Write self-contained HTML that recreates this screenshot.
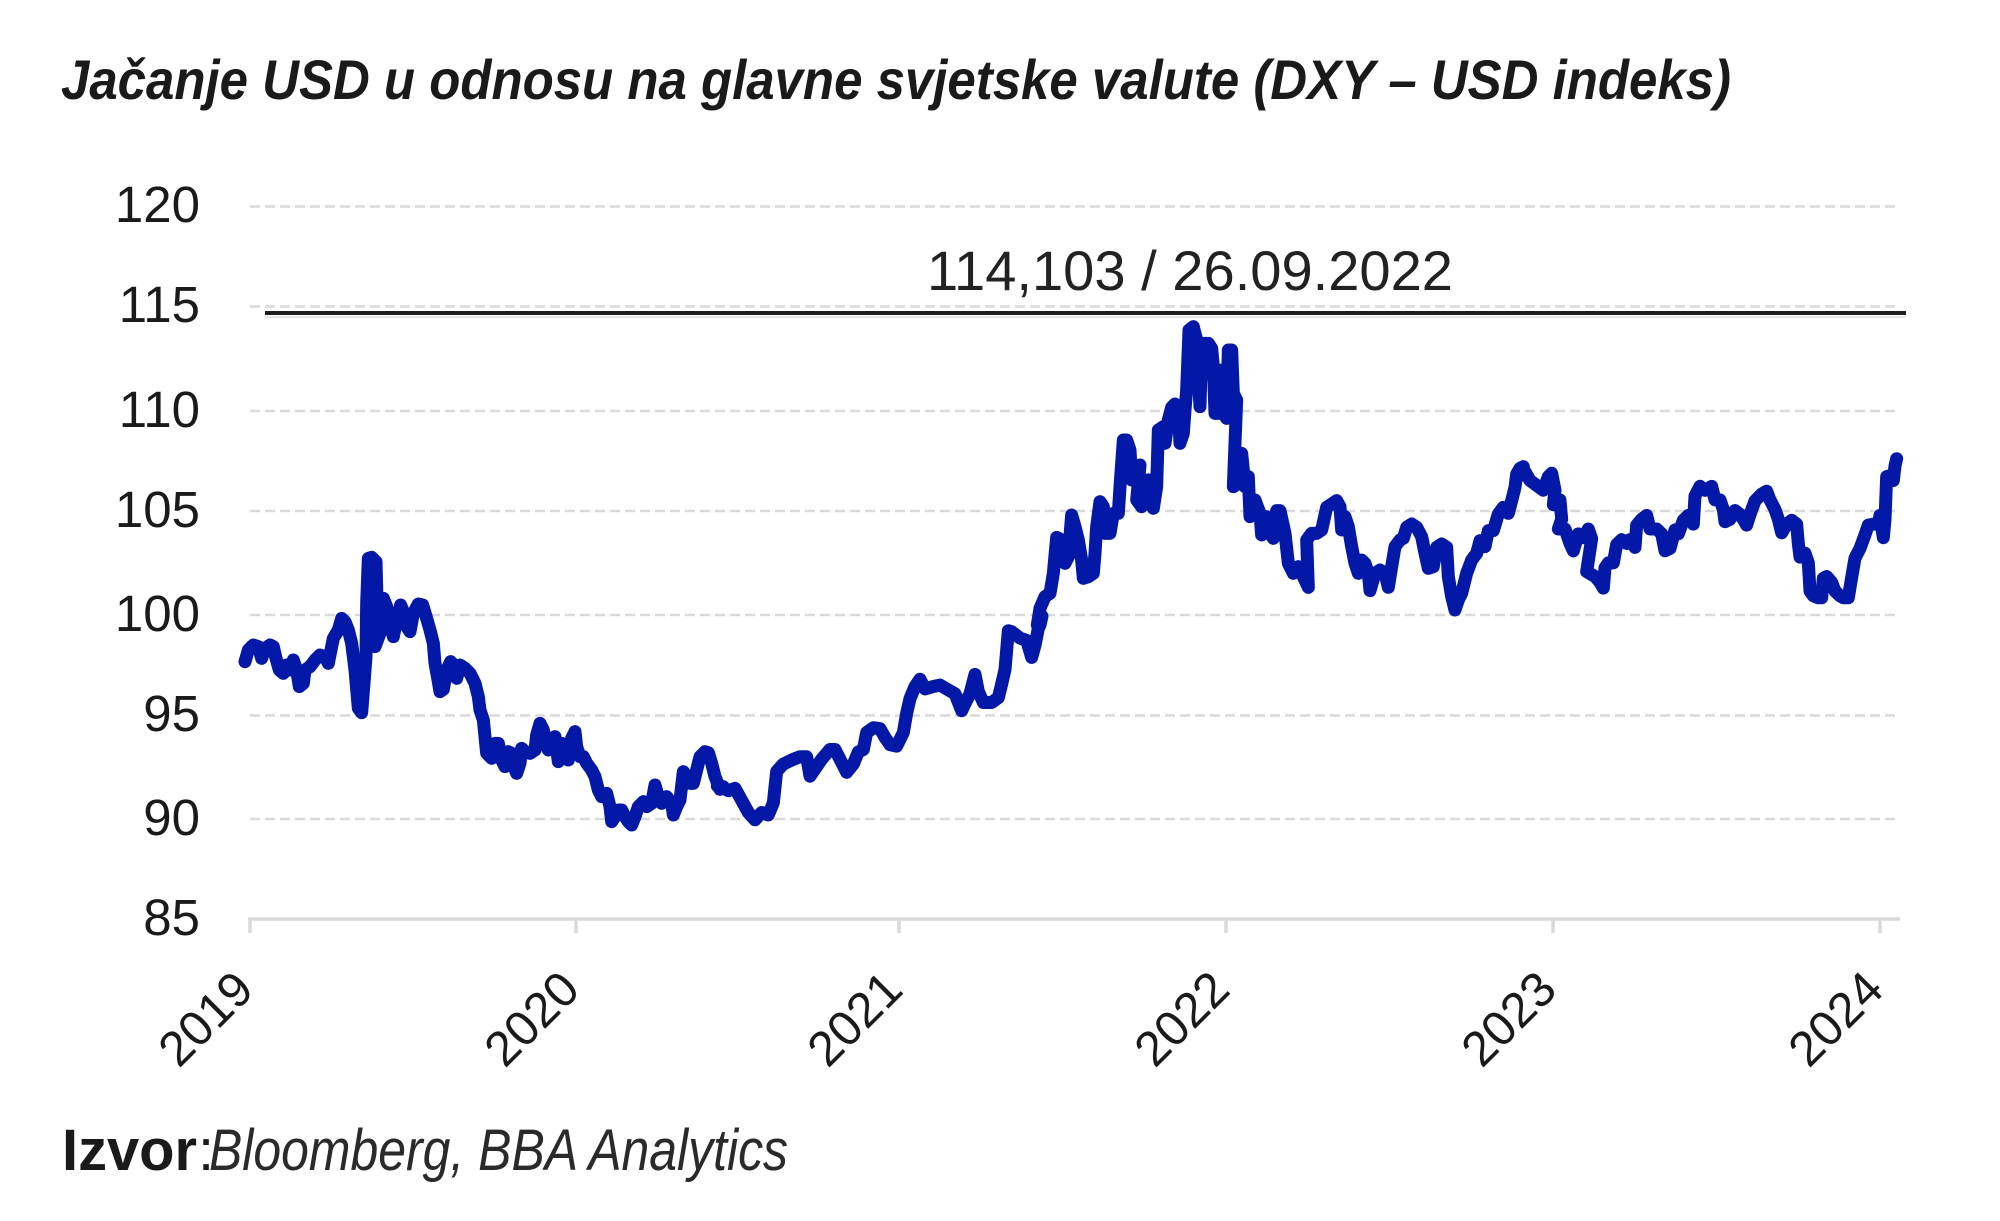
<!DOCTYPE html>
<html>
<head>
<meta charset="utf-8">
<style>
  html, body { margin: 0; padding: 0; background: #ffffff; }
  svg { display: block; }
  text { font-family: "Liberation Sans", Arial, sans-serif; }
</style>
</head>
<body>
<svg width="2000" height="1221" viewBox="0 0 2000 1221" xmlns="http://www.w3.org/2000/svg">
  <rect x="0" y="0" width="2000" height="1221" fill="#ffffff"/>

  <!-- Title -->
  <text x="61" y="99" font-size="56" font-weight="bold" font-style="italic" fill="#1a1a1a" textLength="1670" lengthAdjust="spacingAndGlyphs">Jačanje USD u odnosu na glavne svjetske valute (DXY – USD indeks)</text>

  <!-- Gridlines -->
  <g stroke="#d9d9d9" stroke-width="2.5" stroke-dasharray="10 5" fill="none">
    <line x1="250" y1="206.5" x2="1897" y2="206.5"/>
    <line x1="250" y1="306.5" x2="1897" y2="306.5"/>
    <line x1="250" y1="411" x2="1897" y2="411"/>
    <line x1="250" y1="511" x2="1897" y2="511"/>
    <line x1="250" y1="615" x2="1897" y2="615"/>
    <line x1="250" y1="715.5" x2="1897" y2="715.5"/>
    <line x1="250" y1="819" x2="1897" y2="819"/>
  </g>

  <!-- X axis -->
  <g stroke="#d9d9d9" stroke-width="3.5" fill="none">
    <line x1="248" y1="919" x2="1900" y2="919"/>
    <line x1="250" y1="919" x2="250" y2="933"/>
    <line x1="576" y1="919" x2="576" y2="933"/>
    <line x1="899" y1="919" x2="899" y2="933"/>
    <line x1="1226" y1="919" x2="1226" y2="933"/>
    <line x1="1553" y1="919" x2="1553" y2="933"/>
    <line x1="1880" y1="919" x2="1880" y2="933"/>
  </g>

  <!-- Y labels -->
  <g font-size="51" fill="#1a1a1a" text-anchor="end">
    <text x="200" y="222">120</text>
    <text x="200" y="322">115</text>
    <text x="200" y="427">110</text>
    <text x="200" y="527">105</text>
    <text x="200" y="631">100</text>
    <text x="200" y="731">95</text>
    <text x="200" y="835">90</text>
    <text x="200" y="935">85</text>
  </g>

  <!-- X labels -->
  <g font-size="49" fill="#1a1a1a" text-anchor="end">
    <text transform="translate(256,992) rotate(-45)">2019</text>
    <text transform="translate(582,992) rotate(-45)">2020</text>
    <text transform="translate(905,992) rotate(-45)">2021</text>
    <text transform="translate(1232,992) rotate(-45)">2022</text>
    <text transform="translate(1559,992) rotate(-45)">2023</text>
    <text transform="translate(1886,992) rotate(-45)">2024</text>
  </g>

  <!-- Max line + annotation -->
  <line x1="265" y1="313" x2="1906" y2="313" stroke="#1e1e1e" stroke-width="4"/>
  <line x1="265" y1="317" x2="1906" y2="317" stroke="#e6e6e6" stroke-width="2"/>
  <text x="927" y="290" font-size="56" fill="#222222" textLength="526" lengthAdjust="spacingAndGlyphs">114,103 / 26.09.2022</text>

  <!-- Series -->
  <g fill="none" stroke="#0418a8" stroke-width="13" stroke-linejoin="round" stroke-linecap="round">
    <g transform="translate(240,530) scale(0.333333,0.333333)">
      <polyline vector-effect="non-scaling-stroke" points="15,395 25,360 40,345 55,350 65,385 75,355 90,345 100,350 108,385 118,420 130,430 140,405 150,420 160,390 170,420 178,470 190,460 195,420 210,410 225,390 240,375 255,380 265,400 270,375 280,325 295,300 305,265 315,275 325,300 335,340 345,420 355,535 365,548 372,460 378,380 380,220 385,85 395,82 408,95 412,250 405,350 420,310 430,205 440,230 450,280 460,320 470,270 482,225 492,250 500,290 510,305 520,250 535,222 548,225 560,265 570,300 580,340 585,400 595,455 600,485 610,478 620,420 632,395 645,410 650,445 660,405 675,415 690,430 705,460 715,500 720,540 730,570 735,620 740,670 755,685 765,640 775,640 785,690 795,710 805,665 815,670 820,705 830,730 840,700 845,655 855,665 870,670 885,660 890,615 900,580 910,600 915,640 925,660 935,625 945,620 955,695 965,640 975,660 985,690 995,625 1005,605 1010,650 1020,680 1030,680 1040,700 1055,720 1065,740 1075,780 1085,800 1100,790 1110,830 1115,875 1125,860 1135,840 1145,840 1155,860 1165,875 1175,885 1185,860 1195,830 1210,815 1220,830 1235,820 1245,765 1255,800 1265,820 1280,800 1295,820 1300,855 1310,830 1320,810 1330,725 1340,740 1350,760 1360,760 1370,720 1380,680 1395,665 1405,668 1415,700 1425,740 1440,778 1450,770"/>
    </g>
    <g transform="translate(640,180) scale(0.333333,0.4847)">
      <polyline vector-effect="non-scaling-stroke" points="232,1250 240,1250 265,1260 285,1255 305,1280 325,1305 345,1320 365,1305 385,1310 400,1285 410,1220 430,1205 460,1195 480,1190 500,1190 510,1230 525,1215 545,1195 570,1175 585,1175 600,1195 620,1222 640,1205 655,1180 670,1175 680,1140 700,1130 720,1132 735,1150 750,1165 770,1168 790,1140 800,1100 810,1070 825,1045 840,1030 855,1050 880,1045 900,1042 920,1050 945,1060 965,1095 975,1080 990,1060 1005,1020 1015,1055 1030,1078 1055,1078 1075,1068 1085,1040 1095,1010 1105,930 1115,932 1140,945 1160,950 1175,985 1185,960 1195,925 1200,918 1206,900"/>
    </g>
    <g transform="translate(1040,300) scale(0.333333,0.333333)">
      <polyline vector-effect="non-scaling-stroke" points="-8,975 0,925 15,890 30,880 40,820 50,712 65,720 75,790 85,770 95,645 105,680 115,720 125,780 130,835 145,830 160,820 165,760 170,680 180,605 190,620 195,700 210,700 220,640 235,640 240,560 250,420 260,420 270,450 275,540 285,500 300,495 290,600 305,620 320,540 330,540 340,625 350,560 355,390 370,380 375,430 385,360 395,322 405,312 415,330 420,430 430,400 435,330 440,270 447,90 460,80 470,120 480,320 485,130 505,130 515,145 520,200 525,340 535,340 545,210 550,340 560,355 565,150 575,150 580,280 590,300 580,560 595,550 605,460 615,560 625,530 630,650 645,600 660,640 665,705 680,650 690,700 700,715 710,632 720,632 735,700 745,790 760,820 775,800 790,830 805,862 800,720 815,700 830,700 845,690 860,622 875,612 890,602 900,620 905,690 915,650 925,680 935,740 945,790 955,820 965,780 975,790 985,820 990,872 1005,820 1020,810 1035,820 1045,862 1055,800 1065,740 1080,720 1090,715 1100,682 1115,672 1130,682 1145,710 1155,760 1165,805 1180,800 1190,742 1205,732 1220,742 1225,830 1235,890 1245,930 1255,900 1265,880 1280,820 1295,780 1310,760 1320,722 1335,740 1345,692 1360,692 1375,642 1390,622 1405,640 1415,602 1425,562 1430,522 1440,505 1450,500"/>
    </g>
    <g transform="translate(1520,180) scale(0.333333,0.4847)">
      <polyline vector-effect="non-scaling-stroke" points="-8,608 0,610 15,602 30,620 50,630 70,640 85,612 95,605 105,640 100,670 120,660 125,700 115,720 135,720 150,750 160,765 175,730 190,738 205,720 215,740 200,808 225,818 240,830 250,842 255,800 265,790 280,790 290,752 305,742 320,750 330,742 345,758 350,712 365,700 380,692 390,720 410,720 425,730 435,765 450,760 465,722 475,730 490,702 505,692 520,710 525,652 540,632 555,640 575,632 585,660 600,660 610,680 615,705 630,700 645,682 660,690 670,700 680,712 690,690 705,662 725,648 740,642 750,660 765,680 775,700 785,728 800,710 815,702 830,710 835,750 840,778 855,770 865,790 870,848 880,858 895,862 905,862 910,822 920,818 935,830 945,848 960,858 970,862 985,862 995,820 1005,780 1020,760 1035,732 1045,712 1060,710 1075,710 1080,692 1090,738 1095,700 1100,612 1110,610 1120,620 1125,590 1130,575"/>
    </g>
  </g>

  <!-- Source -->
  <text x="62" y="1170" font-size="58" font-weight="bold" fill="#1a1a1a" textLength="135" lengthAdjust="spacingAndGlyphs">Izvor</text>
  <text x="198" y="1170" font-size="58" fill="#1a1a1a">:</text>
  <text x="209" y="1170" font-size="58" font-style="italic" fill="#2a2a2a" textLength="579" lengthAdjust="spacingAndGlyphs">Bloomberg, BBA Analytics</text>
</svg>
</body>
</html>
